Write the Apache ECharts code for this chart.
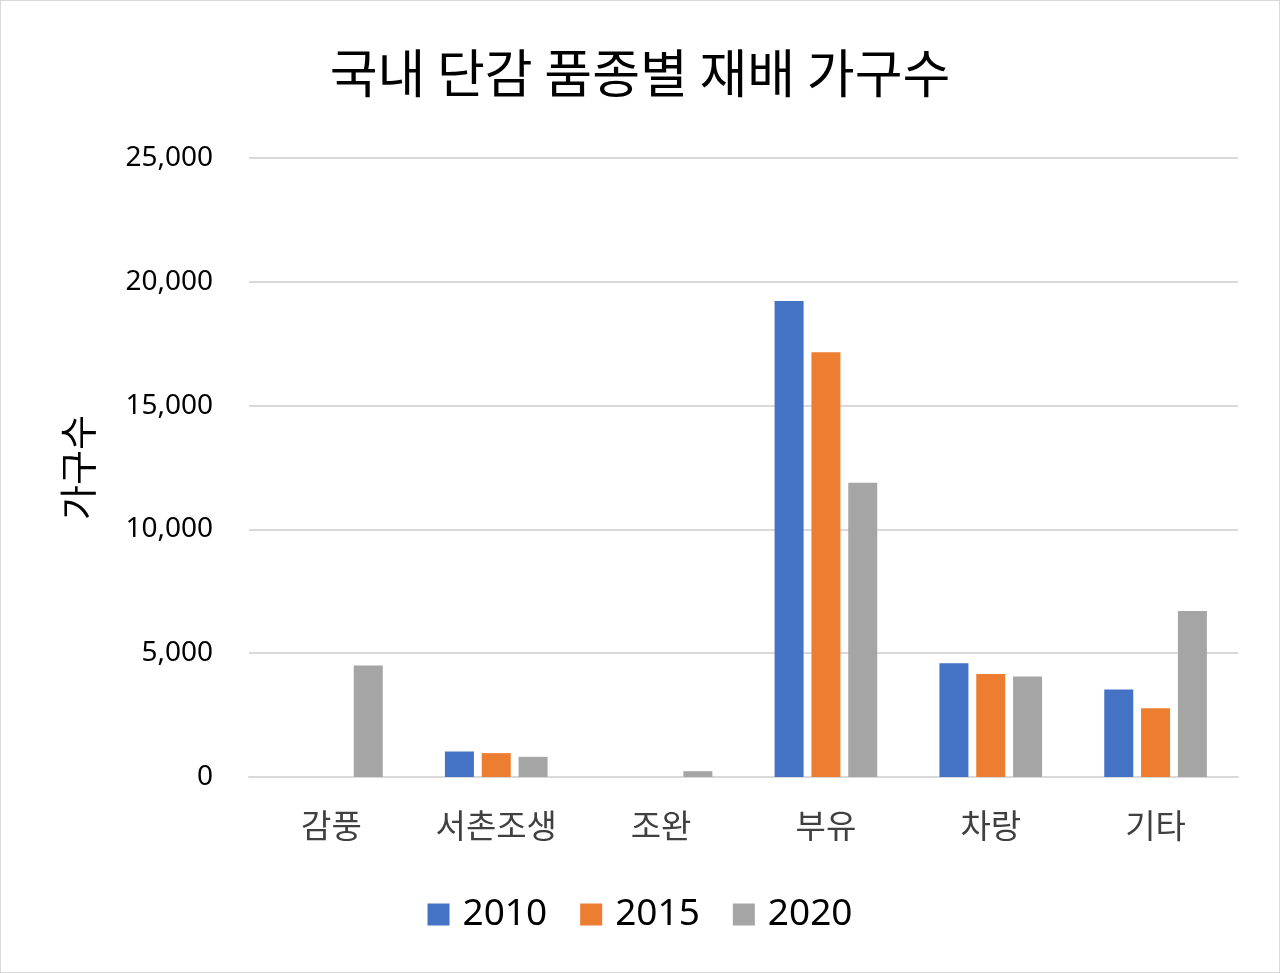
<!DOCTYPE html>
<html>
<head>
<meta charset="utf-8">
<script src="https://cdn.jsdelivr.net/npm/echarts@6/dist/echarts.min.js"></script>
<style>
    html, body { margin: 0; padding: 0; background: #fff; }
    #chart { width: 1280px; height: 973px; box-sizing: border-box; border: 1px solid #d9d9d9; }
</style>
</head>
<body>
<div id="chart"></div>
<script>
// 품종
const categories = ['감풍', '서촌조생', '조완', '부유', '차랑', '기타'];
// 연도별 재배 가구수
const years = ['2010', '2015', '2020'];
const data2010 = [0, 1030, 0, 19220, 4590, 3530];
const data2015 = [0, 965, 0, 17150, 4155, 2775];
const data2020 = [4505, 815, 235, 11880, 4060, 6705];
const yTicks = [0, 5000, 10000, 15000, 20000, 25000];

const colors = ['#4472c4', '#ed7d31', '#a5a5a5'];
const krFont = '"Noto Sans CJK KR", sans-serif';
const numFont = '"Noto Sans", "Noto Sans CJK KR", sans-serif';

const chart = echarts.init(document.getElementById('chart'));

const seriesData = [data2010, data2015, data2020];

chart.setOption({
    animation: false,
    title: {
        text: '국내 단감 품종별 재배 가구수',
        left: 'center',
        top: 41,
        textStyle: { fontFamily: krFont, fontSize: 52, fontWeight: 'normal', color: '#000' }
    },
    legend: {
        data: years,
        left: 'center',
        top: 890,
        itemWidth: 22,
        itemHeight: 22,
        itemGap: 33,
        icon: 'rect',
        textStyle: { fontFamily: numFont, fontSize: 37, color: '#000', padding: [0, 0, 0, 8] }
    },
    grid: { left: 248, right: 41, top: 157, bottom: 195 },
    xAxis: {
        type: 'category',
        data: categories,
        axisLine: { lineStyle: { color: '#d9d9d9', width: 2 } },
        axisTick: { show: false },
        axisLabel: { fontFamily: krFont, fontSize: 33, color: '#404040', margin: 32 }
    },
    yAxis: {
        type: 'value',
        min: yTicks[0],
        max: yTicks[yTicks.length - 1],
        interval: 5000,
        name: '가구수',
        nameLocation: 'middle',
        nameRotate: 90,
        nameGap: 152,
        nameTextStyle: { fontFamily: krFont, fontSize: 38, color: '#000' },
        axisLine: { show: false },
        axisTick: { show: false },
        splitLine: { lineStyle: { color: '#d9d9d9', width: 2 } },
        axisLabel: {
            fontFamily: numFont,
            fontSize: 28,
            color: '#000',
            margin: 36,
            formatter: v => v.toLocaleString('en-US')
        }
    },
    series: years.map((y, i) => ({
        name: y,
        type: 'bar',
        barWidth: 29,
        barGap: '27%',
        itemStyle: { color: colors[i] },
        data: seriesData[i]
    }))
});
</script>
</body>
</html>
